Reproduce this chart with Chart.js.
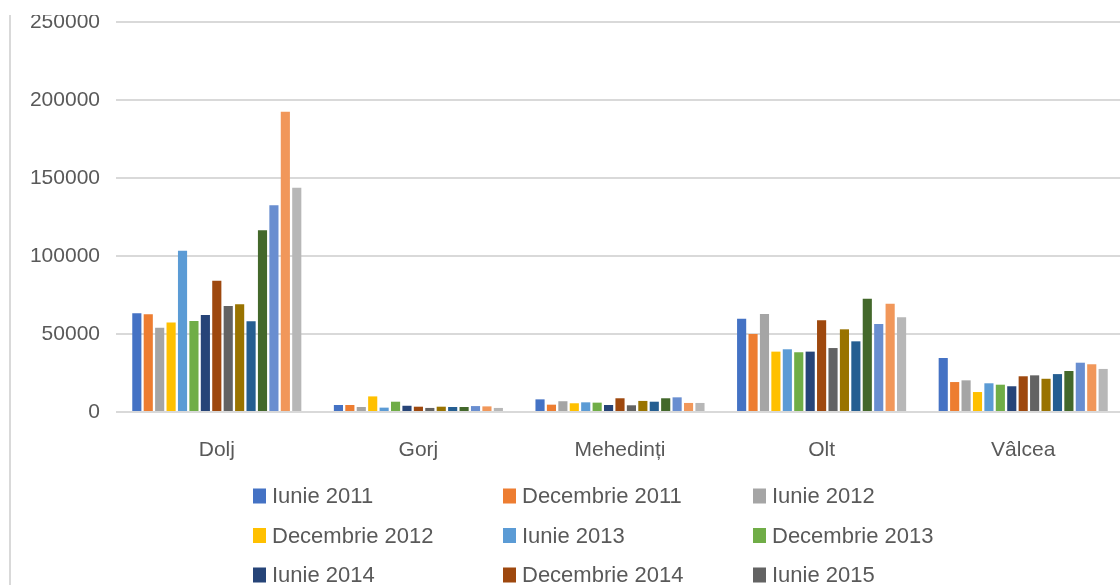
<!DOCTYPE html>
<html>
<head>
<meta charset="utf-8">
<script src="https://cdn.jsdelivr.net/npm/chart.js@4/dist/chart.umd.min.js"></script>
<style>
  html, body { margin: 0; padding: 0; background: #fff; overflow: hidden; width: 1120px; height: 585px; }
  #wrap { position: absolute; left: 0; top: 0; width: 1124px; height: 680px; }
  #sus { position: absolute; left: 0; top: 0; width: 1120px; height: 15px; background: #fff; z-index: 2; }
  #linie { position: absolute; left: 9px; top: 15px; width: 2px; height: 600px; background: #d9d9d9; z-index: 2; }
</style>
</head>
<body>
<div id="sus"></div>
<div id="linie"></div>
<div id="wrap"><canvas id="grafic" width="1124" height="680"></canvas></div>
<script>
// judete
const judete = ['Dolj', 'Gorj', 'Mehedinți', 'Olt', 'Vâlcea'];

// perioade (serii)
const perioade = ['Iunie 2011', 'Decembrie 2011', 'Iunie 2012', 'Decembrie 2012', 'Iunie 2013',
    'Decembrie 2013', 'Iunie 2014', 'Decembrie 2014', 'Iunie 2015', 'Decembrie 2015',
    'Iunie 2016', 'Decembrie 2016', 'Iunie 2017', 'Decembrie 2017', 'Iunie 2018'];

// valori, cate una pe perioada
const dolj      = [63300, 62600, 54000, 57300, 103400, 58300, 62200, 84200, 67900, 69000, 58100, 116500, 132500, 192500, 143800];
const gorj      = [4500, 4500, 3200, 10000, 2800, 6600, 4000, 3400, 2600, 3400, 3200, 3200, 3800, 3600, 2600];
const mehedinti = [8100, 4700, 6900, 5600, 6200, 6000, 4500, 8800, 4300, 7100, 6600, 8800, 9400, 5800, 5800];
const olt       = [59800, 50000, 62800, 38700, 40200, 38300, 38700, 58800, 41000, 53000, 45300, 72600, 56400, 69400, 60700];
const valcea    = [34600, 19200, 20300, 12800, 18400, 17500, 16500, 22900, 23500, 21300, 24300, 26300, 31600, 30600, 27600];

const culori = ['#4472C4', '#ED7D31', '#A5A5A5', '#FFC000', '#5B9BD5', '#70AD47', '#264478', '#9E480E',
    '#636363', '#997300', '#255E91', '#43682B', '#698ED0', '#F1975A', '#B7B7B7'];

const valori = [dolj, gorj, mehedinti, olt, valcea];

const seturi = perioade.map((p, i) => ({
    label: p,
    data: valori.map(v => v[i]),
    backgroundColor: culori[i],
    categoryPercentage: 0.85,
    barPercentage: 0.8
}));

const fontText = 'Liberation Sans, Arial, sans-serif';

// legenda pe 3 coloane, desenata manual
const legendaPlugin = {
    id: 'legenda',
    afterDraw(chart) {
        const ctx = chart.ctx;
        ctx.save();
        ctx.font = '22px ' + fontText;
        ctx.textBaseline = 'middle';
        chart.data.datasets.forEach((ds, i) => {
            const col = i % 3;
            const rand = Math.floor(i / 3);
            const x = 253 + col * 250;
            const y = 496 + rand * 39.5;
            ctx.fillStyle = ds.backgroundColor;
            ctx.fillRect(x, y - 7.5, 13, 15);
            ctx.fillStyle = '#595959';
            ctx.fillText(ds.label, x + 19, y + 1);
        });
        ctx.restore();
    }
};

new Chart(document.getElementById('grafic'), {
    type: 'bar',
    data: { labels: judete, datasets: seturi },
    options: {
        responsive: false,
        animation: false,
        layout: { padding: { top: 22, left: 0, right: 0, bottom: 0 } },
        plugins: {
            legend: { display: false },
            tooltip: { enabled: false }
        },
        scales: {
            x: {
                grid: { display: false },
                border: { display: false },
                ticks: { color: '#595959', font: { size: 21, family: fontText }, padding: 18 },
                afterFit: s => { s.height = 680 - 412; s.paddingLeft = 0; s.paddingRight = 0; }
            },
            y: {
                min: 0,
                max: 250000,
                ticks: {
                    stepSize: 50000,
                    color: '#595959',
                    font: { size: 21, family: fontText },
                    padding: 16,
                    callback: v => String(v)
                },
                grid: { color: '#d9d9d9', lineWidth: 2, drawTicks: false },
                border: { display: false },
                afterFit: s => { s.width = 116; s.paddingTop = 0; s.paddingBottom = 0; }
            }
        }
    },
    plugins: [legendaPlugin]
});
</script>
</body>
</html>
